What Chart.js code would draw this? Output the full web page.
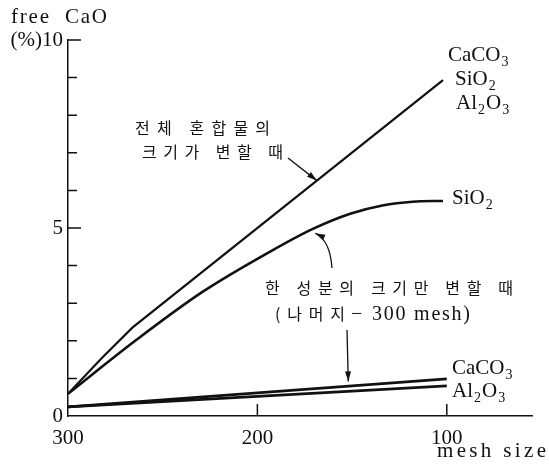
<!DOCTYPE html>
<html>
<head>
<meta charset="utf-8">
<script src="https://cdn.jsdelivr.net/npm/chart.js@4.4.1/dist/chart.umd.min.js"></script>
<style>
  html, body { margin: 0; padding: 0; background: #fff; }
  #wrap { width: 549px; height: 464px; }
</style>
</head>
<body>
<div id="wrap"><canvas id="chart" width="549" height="464"></canvas></div>
<script>
// mesh size (x) vs free CaO % (y)
const wholeMesh = [300, 282, 266, 102];
const wholeCaO  = [0.59, 1.55, 2.35, 8.93];
const sio2Mesh  = [300, 264, 229, 193, 171, 151, 134, 118, 102];
const sio2CaO   = [0.59, 2.02, 3.3, 4.38, 4.97, 5.38, 5.6, 5.7, 5.72];
const caco3Mesh = [300, 100];
const caco3CaO  = [0.24, 0.99];
const al2o3Mesh = [300, 100];
const al2o3CaO  = [0.24, 0.8];

const xTicks = [300, 200, 100];
const yTicks = [0, 5, 10];
const yMinor = [1, 2, 3, 4, 6, 7, 8, 9];

const INK = "#111";
const SERIF = "'Liberation Serif', 'Times New Roman', serif";
const KR = "'Noto Sans CJK KR', sans-serif";

const pts = (xs, ys) => xs.map((v, i) => ({ x: v, y: ys[i] }));

// draw text char by char, spread to fill a given width
function spread(ctx, str, left, base, width) {
  const chars = [...str];
  const ws = chars.map(c => ctx.measureText(c).width);
  const total = ws.reduce((a, b) => a + b, 0);
  const gap = chars.length > 1 ? (width - total) / (chars.length - 1) : 0;
  let cx = left;
  chars.forEach((c, i) => { ctx.fillText(c, cx, base); cx += ws[i] + gap; });
}

// formula with subscripts: parts = [[text, isSub], ...]
function chem(ctx, parts, left, base) {
  let cx = left;
  parts.forEach(([t, sub]) => {
    ctx.font = sub ? "14px " + SERIF : "21px " + SERIF;
    ctx.fillText(t, cx, base + (sub ? 5 : 0));
    cx += ctx.measureText(t).width + 1;
  });
}

function arrowHead(ctx, fx, fy, tx, ty) {
  const a = Math.atan2(ty - fy, tx - fx);
  const len = 10, hw = 3;
  ctx.beginPath();
  ctx.moveTo(tx, ty);
  ctx.lineTo(tx - len * Math.cos(a) + hw * Math.sin(a), ty - len * Math.sin(a) - hw * Math.cos(a));
  ctx.lineTo(tx - len * Math.cos(a) - hw * Math.sin(a), ty - len * Math.sin(a) + hw * Math.cos(a));
  ctx.closePath();
  ctx.fill();
}

const decor = {
  id: "decor",
  afterDraw(chart) {
    const { ctx, scales: { x, y } } = chart;
    ctx.save();
    ctx.strokeStyle = INK;
    ctx.fillStyle = INK;
    ctx.lineWidth = 1.5;

    // ticks pointing into the plot
    const x0 = x.left, y0 = y.bottom;
    ctx.beginPath();
    yTicks.slice(1).forEach(v => {
      const py = y.getPixelForValue(v);
      ctx.moveTo(x0, py); ctx.lineTo(x0 + 13, py);
    });
    yMinor.forEach(v => {
      const py = y.getPixelForValue(v);
      ctx.moveTo(x0, py); ctx.lineTo(x0 + 9, py);
    });
    xTicks.slice(1).forEach(v => {
      const px = x.getPixelForValue(v);
      ctx.moveTo(px, y0); ctx.lineTo(px, y0 - 12);
    });
    ctx.stroke();

    // axis titles
    ctx.textBaseline = "alphabetic";
    ctx.font = "21px " + SERIF;
    spread(ctx, "free  CaO", 11, 23, 96);
    spread(ctx, "mesh size", 437, 457, 109);

    // curve labels
    chem(ctx, [["CaCO", 0], ["3", 1]], 448, 61);
    chem(ctx, [["SiO", 0], ["2", 1]], 455, 85);
    chem(ctx, [["Al", 0], ["2", 1], ["O", 0], ["3", 1]], 456, 109);
    chem(ctx, [["SiO", 0], ["2", 1]], 452, 204);
    chem(ctx, [["CaCO", 0], ["3", 1]], 452, 374);
    chem(ctx, [["Al", 0], ["2", 1], ["O", 0], ["3", 1]], 452, 397);

    // Korean notes
    ctx.font = "16px " + KR;
    spread(ctx, "전체 혼합물의", 135, 134, 135);
    spread(ctx, "크기가 변할 때", 142, 158, 141);
    spread(ctx, "한 성분의 크기만 변할 때", 265, 294, 248);
    spread(ctx, "(나머지", 275, 320, 70);
    ctx.font = "20px " + SERIF;
    ctx.fillText("−", 351, 320);
    spread(ctx, "300 mesh)", 372, 320, 98);

    // arrows
    ctx.lineWidth = 1.3;
    let tx = x.getPixelForValue(168.6), ty = y.getPixelForValue(6.26);
    ctx.beginPath(); ctx.moveTo(288, 158); ctx.lineTo(tx, ty); ctx.stroke();
    arrowHead(ctx, 288, 158, tx, ty);

    tx = x.getPixelForValue(169.5); ty = y.getPixelForValue(4.86);
    ctx.beginPath(); ctx.moveTo(332, 268); ctx.quadraticCurveTo(330, 240, tx, ty); ctx.stroke();
    arrowHead(ctx, 330, 240, tx, ty);

    tx = x.getPixelForValue(152); ty = y.getPixelForValue(0.92);
    ctx.beginPath(); ctx.moveTo(347, 330); ctx.lineTo(tx, ty); ctx.stroke();
    arrowHead(ctx, 347, 330, tx, ty);

    ctx.restore();
  }
};

const lineSet = (data, width, mono) => ({
  data,
  borderColor: INK,
  borderWidth: width,
  pointRadius: 0,
  fill: false,
  tension: 0,
  cubicInterpolationMode: mono ? "monotone" : "default"
});

new Chart(document.getElementById("chart"), {
  type: "line",
  data: {
    datasets: [
      lineSet(pts(wholeMesh, wholeCaO), 2.2, false),
      lineSet(pts(sio2Mesh, sio2CaO), 2.6, true),
      lineSet(pts(caco3Mesh, caco3CaO), 2.8, false),
      lineSet(pts(al2o3Mesh, al2o3CaO), 2.8, false)
    ]
  },
  options: {
    responsive: false,
    animation: false,
    layout: { padding: { top: 40, right: 17, left: 0, bottom: 0 } },
    plugins: { legend: { display: false }, tooltip: { enabled: false } },
    scales: {
      x: {
        type: "linear",
        reverse: true,
        min: 55,
        max: 300,
        afterBuildTicks: s => { s.ticks = xTicks.map(v => ({ value: v })); },
        afterFit: s => { s.height = 48; },
        grid: { display: false, drawTicks: false },
        border: { display: true, color: INK, width: 1.5 },
        ticks: { color: INK, font: { family: SERIF, size: 21 }, padding: 10, maxRotation: 0 }
      },
      y: {
        min: 0,
        max: 10,
        afterBuildTicks: s => { s.ticks = yTicks.map(v => ({ value: v })); },
        afterFit: s => { s.width = 68; },
        grid: { display: false, drawTicks: false },
        border: { display: true, color: INK, width: 1.5 },
        ticks: {
          color: INK,
          font: { family: SERIF, size: 21 },
          padding: 5,
          callback: v => (v === 10 ? "(%)10" : String(v))
        }
      }
    }
  },
  plugins: [decor]
});
</script>
</body>
</html>
